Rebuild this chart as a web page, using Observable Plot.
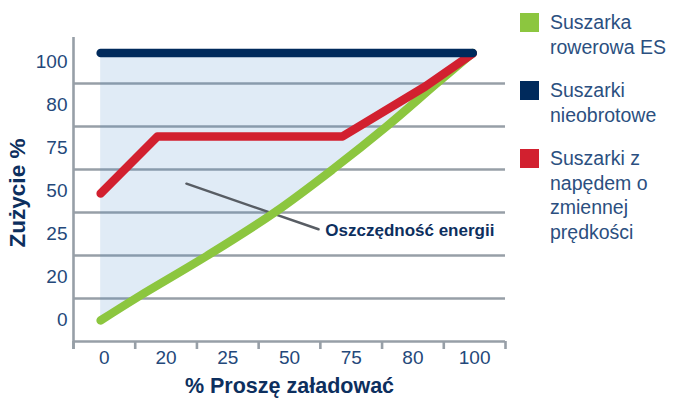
<!DOCTYPE html>
<html>
<head>
<meta charset="utf-8">
<script src="https://cdn.jsdelivr.net/npm/d3@7"></script>
<script src="https://cdn.jsdelivr.net/npm/@observablehq/plot@0.6"></script>
<style>
  html, body { margin: 0; padding: 0; background: #fff; }
  #wrap { position: relative; width: 675px; height: 403px; font-family: "Liberation Sans", Arial, sans-serif; }
  #legend { position: absolute; left: 520px; top: 13px; color: #2b4f80; font-size: 19.5px; line-height: 24.5px; }
  .item { display: flex; align-items: flex-start; margin-bottom: 22px; }
  .sw { width: 19px; height: 19px; flex: none; margin-right: 11px; margin-top: 0px; }
  .lbl { margin-top: -3px; }
</style>
</head>
<body>
<div id="wrap"><div id="chart"></div><div id="legend"></div></div>
<script>
// Category tick labels (evenly spaced positions on both axes)
const xLabels = ["0", "20", "25", "50", "75", "80", "100"];
const yLabels = ["0", "20", "25", "50", "75", "80", "100"];

// Series positions, in axis-position units (0 = first label, 6 = last)
const greenX = [-0.06, 0.505, 1.671, 2.757, 3.697, 4.572, 5.382, 5.966];
const greenY = [-0.01, 0.5, 1.5, 2.5, 3.5, 4.5, 5.5, 6.21];
const redX = [-0.06, 0.86, 3.86, 5.20, 5.97];
const redY = [2.94, 4.27, 4.27, 5.43, 6.20];
const navyX = [-0.06, 5.97];
const navyY = [6.21, 6.21];

// Annotation
const noteLineX = [1.33, 3.47];
const noteLineY = [3.17, 2.11];
const noteText = "Oszczędność energii";
const noteX = 3.58;
const noteY = 2.07;

const seriesNames = ["Suszarka rowerowa ES", "Suszarki nieobrotowe", "Suszarki z napędem o zmiennej prędkości"];
const legendLines = [["Suszarka", "rowerowa ES"], ["Suszarki", "nieobrotowe"], ["Suszarki z", "napędem o", "zmiennej", "prędkości"]];
const colors = ["#8cc63f", "#002a5c", "#d2202f"];

const xTitle = "% Proszę załadować";
const yTitle = "Zużycie %";

const green = greenX.map((x, i) => ({x, y: greenY[i], top: navyY[0]}));
const red = redX.map((x, i) => ({x, y: redY[i]}));
const navy = navyX.map((x, i) => ({x, y: navyY[i]}));
const note = noteLineX.map((x, i) => ({x, y: noteLineY[i]}));
const idx = d3.range(xLabels.length);
const bounds = d3.range(xLabels.length + 1).map(i => i - 0.5);
const grid = d3.range(1, yLabels.length).map(i => i - 0.5);

const gridColor = "#979fa7";
const labelColor = "#24487a";
const titleColor = "#0d2f5e";

const chart = Plot.plot({
  width: 675,
  height: 403,
  marginLeft: 73,
  marginRight: 170,
  marginTop: 40,
  marginBottom: 62,
  style: {fontFamily: "Liberation Sans, Arial, sans-serif", background: "transparent"},
  x: {domain: [-0.5, 6.5], axis: null},
  y: {domain: [-0.5, 6.5], axis: null},
  marks: [
    Plot.ruleY(grid, {stroke: gridColor, strokeWidth: 2.6}),
    Plot.areaY(green, {x: "x", y1: "y", y2: "top", curve: "catmull-rom", fill: "#4a86c8", fillOpacity: 0.17}),
    Plot.ruleY([-0.5], {stroke: gridColor, strokeWidth: 2.6}),
    Plot.ruleX([-0.5], {y1: -0.5 - 8/43, y2: 6.57, stroke: gridColor, strokeWidth: 2.6}),
    Plot.ruleX(bounds, {y1: -0.5, y2: -0.5 - 8/43, stroke: gridColor, strokeWidth: 2.6}),
    Plot.text(idx, {x: d => d, frameAnchor: "bottom", dy: 22, text: d => xLabels[d], fill: labelColor, fontSize: 19}),
    Plot.text(idx, {y: d => d, frameAnchor: "left", dx: -6, textAnchor: "end", text: d => yLabels[d], fill: labelColor, fontSize: 19}),
    Plot.text([xTitle], {frameAnchor: "bottom", dx: 0, dy: 51, text: d => d, fill: titleColor, fontSize: 21.5, fontWeight: "bold"}),
    Plot.text([yTitle], {frameAnchor: "left", textAnchor: "middle", dx: -56, dy: 2, rotate: -90, text: d => d, fill: titleColor, fontSize: 22.5, fontWeight: "bold"}),
    Plot.line(note, {x: "x", y: "y", stroke: "#585d64", strokeWidth: 2.5}),
    Plot.text([noteText], {x: noteX, y: noteY, text: d => d, textAnchor: "start", fill: titleColor, fontSize: 17, fontWeight: "bold"}),
    Plot.line(green, {x: "x", y: "y", curve: "catmull-rom", stroke: colors[0], strokeWidth: 8.5, strokeLinecap: "round", strokeLinejoin: "round"}),
    Plot.line(red, {x: "x", y: "y", stroke: colors[2], strokeWidth: 8.5, strokeLinecap: "round", strokeLinejoin: "round"}),
    Plot.line(navy, {x: "x", y: "y", stroke: colors[1], strokeWidth: 8.5, strokeLinecap: "round"})
  ]
});
document.getElementById("chart").appendChild(chart);

const legend = document.getElementById("legend");
seriesNames.forEach((name, i) => {
  const item = document.createElement("div");
  item.className = "item";
  item.title = name;
  const sw = document.createElement("div");
  sw.className = "sw";
  sw.style.background = colors[i];
  const lbl = document.createElement("div");
  lbl.className = "lbl";
  lbl.innerHTML = legendLines[i].join("<br>");
  item.appendChild(sw);
  item.appendChild(lbl);
  legend.appendChild(item);
});
</script>
</body>
</html>
